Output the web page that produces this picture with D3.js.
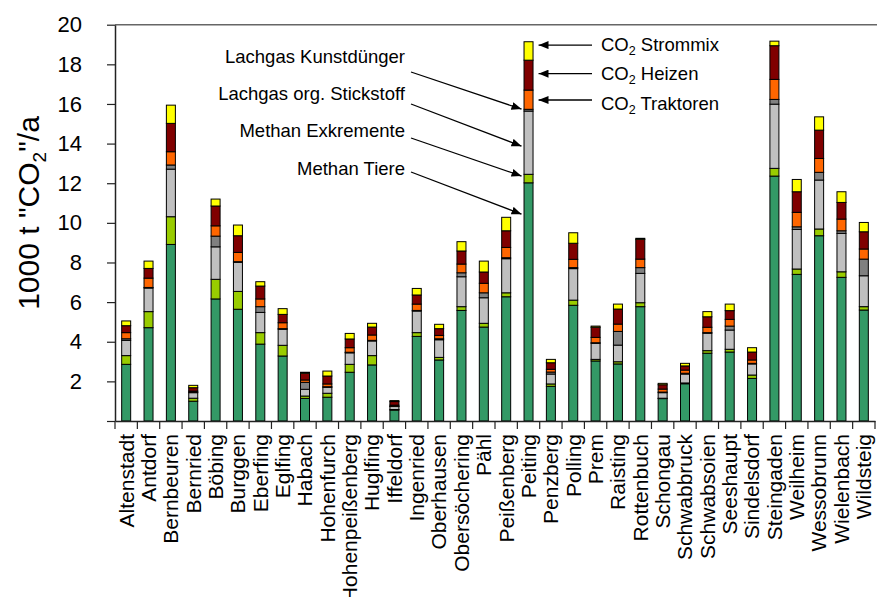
<!DOCTYPE html>
<html>
<head>
<meta charset="utf-8">
<script src="https://cdn.jsdelivr.net/npm/d3@7"></script>
<style>
body { margin: 0; background: #fff; }
text { font-family: Arial, "Liberation Sans", sans-serif; fill: #000; }
</style>
</head>
<body>
<div id="chart"></div>
<script>
// Gemeinden im Landkreis
var gemeinden = ["Altenstadt","Antdorf","Bernbeuren","Bernried","Böbing","Burggen","Eberfing","Eglfing","Habach","Hohenfurch","Hohenpeißenberg","Huglfing","Iffeldorf","Ingenried","Oberhausen","Obersöchering","Pähl","Peißenberg","Peiting","Penzberg","Polling","Prem","Raisting","Rottenbuch","Schongau","Schwabbruck","Schwabsoien","Seeshaupt","Sindelsdorf","Steingaden","Weilheim","Wessobrunn","Wielenbach","Wildsteig"];

// 1000 t "CO2"/a je Quelle
var methanTiere      = [2.86,4.71,8.91,1.00,6.16,5.64,3.88,3.28,1.14,1.20,2.46,2.83,0.55,4.27,3.08,5.58,4.74,6.27,12.02,1.75,5.84,3.03,2.88,5.77,1.13,1.88,3.42,3.48,2.15,12.36,7.40,9.35,7.25,5.60];
var methanExkremente = [0.44,0.81,1.40,0.15,0.99,0.90,0.58,0.54,0.12,0.20,0.40,0.47,0.03,0.19,0.13,0.19,0.19,0.20,0.43,0.12,0.26,0.08,0.11,0.20,0.02,0.04,0.13,0.14,0.17,0.39,0.27,0.34,0.28,0.17];
var lachgasOrgN      = [0.77,1.19,2.40,0.28,1.64,1.47,1.02,0.81,0.34,0.30,0.58,0.74,0.15,1.09,0.89,1.51,1.29,1.72,3.19,0.50,1.59,0.81,0.84,1.48,0.28,0.45,0.88,0.97,0.56,3.24,2.00,2.47,1.94,1.56];
var lachgasKunst     = [0.08,0.03,0.21,0.03,0.54,0.03,0.29,0.03,0.35,0.03,0.03,0.03,0.02,0.03,0.05,0.20,0.25,0.05,0.09,0.10,0.05,0.03,0.69,0.29,0.03,0.04,0.03,0.20,0.03,0.24,0.13,0.39,0.13,0.84];
var co2Traktoren     = [0.31,0.47,0.67,0.05,0.52,0.47,0.39,0.30,0.12,0.14,0.23,0.27,0.05,0.32,0.17,0.44,0.48,0.52,0.97,0.14,0.42,0.27,0.37,0.43,0.15,0.16,0.27,0.34,0.17,1.01,0.73,0.70,0.59,0.51];
var co2Heizen        = [0.35,0.49,1.43,0.17,1.00,0.84,0.65,0.42,0.34,0.40,0.44,0.40,0.18,0.46,0.34,0.66,0.57,0.84,1.51,0.33,0.81,0.51,0.76,1.00,0.22,0.21,0.53,0.44,0.40,1.70,1.04,1.43,0.84,0.87];
var co2Strommix      = [0.24,0.37,0.92,0.12,0.35,0.54,0.22,0.29,0.05,0.25,0.28,0.19,0.05,0.33,0.22,0.47,0.55,0.68,0.93,0.17,0.53,0.06,0.25,0.05,0.07,0.13,0.26,0.33,0.22,0.23,0.62,0.67,0.54,0.47];

var serien = [
    { key: "tiere",   werte: methanTiere,      farbe: "#339966" },
    { key: "exkr",    werte: methanExkremente, farbe: "#99cc00" },
    { key: "orgN",    werte: lachgasOrgN,      farbe: "#c0c0c0" },
    { key: "kunst",   werte: lachgasKunst,     farbe: "#808080" },
    { key: "trakt",   werte: co2Traktoren,     farbe: "#ff6600" },
    { key: "heizen",  werte: co2Heizen,        farbe: "#800000" },
    { key: "strom",   werte: co2Strommix,      farbe: "#ffff00" }
];

var yTicks = [0,2,4,6,8,10,12,14,16,18,20];

var width = 877, height = 597;
var plotLeft = 115, plotRight = 875, plotBottom = 421, plotTop = 24.7;

var svg = d3.select("#chart").append("svg")
    .attr("width", width)
    .attr("height", height);

var x = d3.scaleBand()
    .domain(gemeinden)
    .range([plotLeft, plotRight])
    .padding(0);

var y = d3.scaleLinear()
    .domain([0, 20])
    .range([plotBottom, plotTop]);

// table for the stack
var tabelle = gemeinden.map(function(g, i) {
    var row = { name: g };
    serien.forEach(function(s) { row[s.key] = s.werte[i]; });
    return row;
});

var stack = d3.stack().keys(serien.map(function(s) { return s.key; }));
var layers = stack(tabelle);

var barW = 9;

// top border of plot area
svg.append("line")
    .attr("x1", plotLeft).attr("x2", width)
    .attr("y1", plotTop).attr("y2", plotTop)
    .style("stroke", "#666")
    .style("stroke-width", 1.5);

// Draw bars
svg.selectAll(".layer")
    .data(layers)
    .enter().append("g")
    .attr("class", "layer")
    .style("fill", function(d, i) { return serien[i].farbe; })
    .selectAll("rect")
    .data(function(d) { return d; })
    .enter().append("rect")
    .attr("x", function(d) { return x(d.data.name) + x.bandwidth() / 2 - barW / 2; })
    .attr("y", function(d) { return y(d[1]); })
    .attr("width", barW)
    .attr("height", function(d) { return Math.max(0, y(d[0]) - y(d[1])); })
    .style("stroke", "#000")
    .style("stroke-width", 1);

// y axis
var yAxis = svg.append("g")
    .attr("transform", "translate(" + plotLeft + ",0)")
    .call(d3.axisLeft(y)
        .tickValues(yTicks)
        .tickSize(8)
        .tickSizeOuter(0)
        .tickPadding(25)
        .tickFormat(function(d) { return d === 0 ? "" : d; }));
yAxis.selectAll("text")
    .style("font-size", "22px")
    .style("font-family", "Arial, 'Liberation Sans', sans-serif");
yAxis.select(".domain").style("stroke", "#222").style("stroke-width", 1.5);
yAxis.selectAll(".tick line").style("stroke", "#222").style("stroke-width", 1.2);

// x axis with labels
var xAxis = svg.append("g")
    .attr("transform", "translate(0," + plotBottom + ")")
    .call(d3.axisBottom(x).tickSize(0).tickSizeOuter(0));
xAxis.select(".domain").style("stroke", "#222").style("stroke-width", 1.5);
xAxis.selectAll("text")
    .style("font-size", "21px")
    .style("font-family", "Arial, 'Liberation Sans', sans-serif")
    .style("text-anchor", "end")
    .attr("transform", "rotate(-90)")
    .attr("x", -13)
    .attr("y", 0)
    .attr("dy", "0.35em");

// ticks between categories
svg.selectAll(".xtick")
    .data(d3.range(gemeinden.length + 1))
    .enter().append("line")
    .attr("class", "xtick")
    .attr("x1", function(i) { return plotLeft + i * x.step(); })
    .attr("x2", function(i) { return plotLeft + i * x.step(); })
    .attr("y1", plotBottom)
    .attr("y2", plotBottom + 8)
    .style("stroke", "#222")
    .style("stroke-width", 1.2);

// y axis title
var titel = svg.append("text")
    .attr("transform", "translate(39,213) rotate(-90)")
    .attr("text-anchor", "middle")
    .style("font-size", "30px");
titel.append("tspan").text("1000 t \"CO");
titel.append("tspan").attr("dy", 7).style("font-size", "19px").text("2");
titel.append("tspan").attr("dy", -7).text("\"/a");

// arrowhead
svg.append("defs").append("marker")
    .attr("id", "pfeil")
    .attr("viewBox", "0 0 10 8")
    .attr("refX", 10)
    .attr("refY", 4)
    .attr("markerWidth", 10)
    .attr("markerHeight", 8)
    .attr("markerUnits", "userSpaceOnUse")
    .attr("orient", "auto")
    .append("path")
    .attr("d", "M0,0 L10,4 L0,8 z")
    .style("fill", "#000");

var peitingX = x("Peiting") + x.bandwidth() / 2;

// annotations left (Lachgas / Methan)
var linksLabels = [
    { text: "Lachgas Kunstdünger",      ty: 63,  y0: 72,  wert: 15.74 },
    { text: "Lachgas org. Stickstoff",  ty: 100, y0: 104, wert: 13.87 },
    { text: "Methan Exkremente",        ty: 137, y0: 138, wert: 12.36 },
    { text: "Methan Tiere",             ty: 175, y0: 172, wert: 10.44 }
];

linksLabels.forEach(function(d) {
    svg.append("text")
        .attr("x", 405)
        .attr("y", d.ty)
        .attr("text-anchor", "end")
        .style("font-size", "18.5px")
        .text(d.text);
    svg.append("line")
        .attr("x1", 411).attr("y1", d.y0)
        .attr("x2", peitingX - 7).attr("y2", y(d.wert))
        .style("stroke", "#000")
        .style("stroke-width", 1.3)
        .attr("marker-end", "url(#pfeil)");
});

// annotations right (CO2)
var rechtsLabels = [
    { name: " Strommix",  ty: 51,  wert: 18.97 },
    { name: " Heizen",    ty: 80,  wert: 17.53 },
    { name: " Traktoren", ty: 110, wert: 16.2 }
];

rechtsLabels.forEach(function(d) {
    var t = svg.append("text")
        .attr("x", 601)
        .attr("y", d.ty)
        .style("font-size", "18.5px");
    t.append("tspan").text("CO");
    t.append("tspan").attr("dy", 4).style("font-size", "12.5px").text("2");
    t.append("tspan").attr("dy", -4).text(d.name);
    svg.append("line")
        .attr("x1", 592).attr("y1", y(d.wert))
        .attr("x2", peitingX + 10).attr("y2", y(d.wert))
        .style("stroke", "#000")
        .style("stroke-width", 1.3)
        .attr("marker-end", "url(#pfeil)");
});
</script>
</body>
</html>
